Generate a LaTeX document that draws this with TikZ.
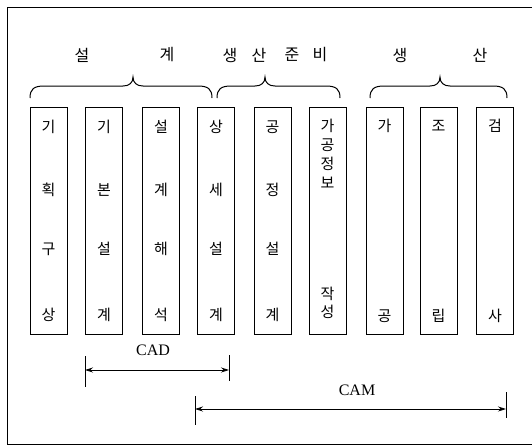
\documentclass[tikz,border=0pt]{standalone}
\usepackage{fontspec}
\setmainfont{Liberation Serif}
\newfontfamily\kr{Noto Sans CJK KR}
\usetikzlibrary{arrows.meta}
\newcommand\kbrace[4]{% x1, x2, tip x, name
  \draw[bracestyle] (#1,98) .. controls (#1,89) and (#1+4,86) .. (#1+14,86)
    -- (#3-10,86) .. controls (#3-4,86) and (#3,83) .. (#3,77)
    .. controls (#3,83) and (#3+4,86) .. (#3+10,86)
    -- (#2-14,86) .. controls (#2-4,86) and (#2,89) .. (#2,98);
}
\tikzset{
  x=1pt, y=-1pt,
  stagebox/.style={draw, line width=1pt, minimum width=37pt, minimum height=227pt, inner sep=0pt},
  ch/.style={font=\kr\fontsize{15}{16}\selectfont, inner sep=0pt},
  head/.style={font=\kr\fontsize{16}{17}\selectfont, inner sep=0pt},
  bracestyle/.style={line width=1pt},
  lbl/.style={font=\fontsize{16}{17}\selectfont, inner sep=0pt},
  tick/.style={line width=0.8pt},
  span/.style={line width=0.8pt, {Stealth[length=8pt,width=5pt]}-{Stealth[length=8pt,width=5pt]}},
}
\begin{document}
\begin{tikzpicture}
\useasboundingbox (0,0) rectangle (532,447);
% frame
\draw[line width=0.9pt] (532,7) -- (7,7) -- (7,444) -- (532,444);
% headers
\node[head] (h1) at (82,55) {설};
\node[head] (h2) at (167,55) {계};
\node[head] (h3) at (230,55) {생};
\node[head] (h4) at (259,55) {산};
\node[head] (h5) at (292,55) {준};
\node[head] (h6) at (320,55) {비};
\node[head] (h7) at (400,55) {생};
\node[head] (h8) at (480,55) {산};
% braces
\kbrace{30}{212}{133}{b1}
\kbrace{217}{340}{265}{b2}
\kbrace{370}{507}{440}{b3}
% boxes
\foreach \i/\x in {1/48.5,2/104,3/161,4/216,5/272.5,6/327.5,7/384.5,8/438.5,9/495}
  \node[stagebox] (box\i) at (\x,220.5) {};
% box texts
\foreach \i/\x/\a/\b/\c/\d in {1/48.5/기/획/구/상, 2/104/기/본/설/계, 3/161/설/계/해/석, 4/216/상/세/설/계, 5/272.5/공/정/설/계}{
  \node[ch] (t\i a) at (\x,127) {\a};
  \node[ch] (t\i b) at (\x,190) {\b};
  \node[ch] (t\i c) at (\x,249) {\c};
  \node[ch] (t\i d) at (\x,315) {\d};
}
\node[ch] (t6a) at (327.5,126) {가};
\node[ch] (t6b) at (327.5,145) {공};
\node[ch] (t6c) at (327.5,164) {정};
\node[ch] (t6d) at (327.5,183) {보};
\node[ch] (t6e) at (327.5,294) {작};
\node[ch] (t6f) at (327.5,312) {성};
\foreach \i/\x/\a/\b in {7/384.5/가/공, 8/438.5/조/립, 9/495/검/사}{
  \node[ch] (t\i a) at (\x,126) {\a};
  \node[ch] (t\i b) at (\x,316) {\b};
}
% CAD
\coordinate (cadL) at (85,370);
\coordinate (cadR) at (229,370);
\draw[tick] (85,356) -- (85,387);
\draw[tick] (229,355) -- (229,381);
\draw[span] (cadL) -- (cadR);
\node[lbl] (cad) at (153,350) {CAD};
% CAM
\coordinate (camL) at (195,409);
\coordinate (camR) at (506,409);
\draw[tick] (195,396) -- (195,425);
\draw[tick] (506,392) -- (506,418);
\draw[span] (camL) -- (camR);
\node[lbl] (cam) at (357,390) {CAM};
\end{tikzpicture}
\end{document}
